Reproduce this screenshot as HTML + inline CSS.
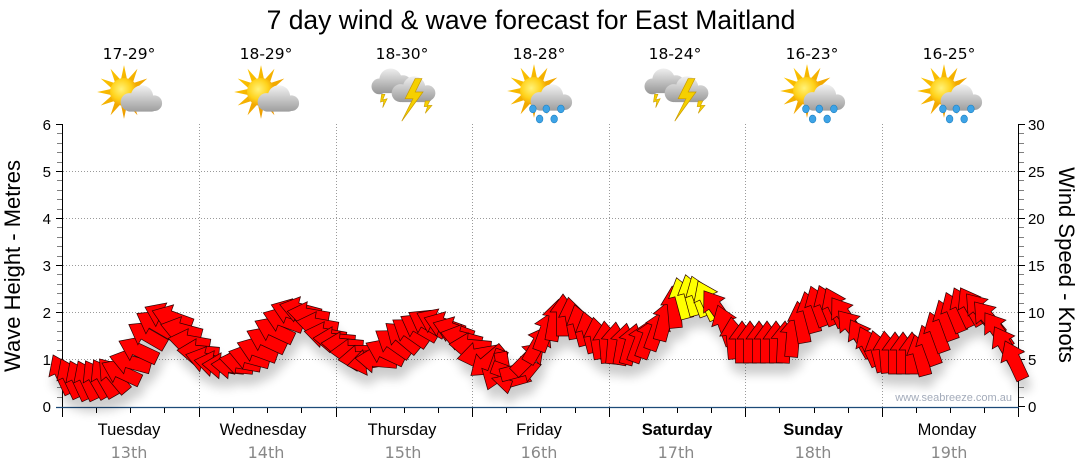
<!DOCTYPE html>
<html><head><meta charset="utf-8"><style>
html,body{margin:0;padding:0;background:#fff;}
svg{display:block;}
</style></head><body>
<svg width="1080" height="475" viewBox="0 0 1080 475" xmlns="http://www.w3.org/2000/svg" xmlns:xlink="http://www.w3.org/1999/xlink">
<defs>
<path id="ar" d="M0,-21 L13,-3 L6.5,-3 L6.5,21 L-6.5,21 L-6.5,-3 L-13,-3 Z"/>
<filter id="sh" x="-5%" y="-30%" width="110%" height="180%">
<feGaussianBlur in="SourceAlpha" stdDeviation="5"/>
<feOffset dx="3" dy="11"/>
<feComponentTransfer><feFuncA type="linear" slope="0.2"/></feComponentTransfer>
<feMerge><feMergeNode/><feMergeNode in="SourceGraphic"/></feMerge>
</filter>
<radialGradient id="sunG" cx="0.4" cy="0.4" r="0.6">
<stop offset="0" stop-color="#fff27a"/><stop offset="0.6" stop-color="#ffd21a"/><stop offset="1" stop-color="#f0a000"/>
</radialGradient>
<linearGradient id="rayG" gradientUnits="userSpaceOnUse" x1="-24" y1="-24" x2="24" y2="24">
<stop offset="0" stop-color="#ffd000"/><stop offset="1" stop-color="#e88a00"/>
</linearGradient>
<linearGradient id="cg" gradientUnits="userSpaceOnUse" x1="0" y1="-7" x2="0" y2="18">
<stop offset="0" stop-color="#f6f6f6"/><stop offset="1" stop-color="#9c9c9c"/>
</linearGradient>
<linearGradient id="tg1" gradientUnits="userSpaceOnUse" x1="0" y1="-22" x2="0" y2="2">
<stop offset="0" stop-color="#f2f2f2"/><stop offset="1" stop-color="#959595"/>
</linearGradient>
<linearGradient id="tg2" gradientUnits="userSpaceOnUse" x1="0" y1="-15" x2="0" y2="9">
<stop offset="0" stop-color="#f4f4f4"/><stop offset="1" stop-color="#9a9a9a"/>
</linearGradient>
<g id="sun">
<polygon fill="url(#rayG)" points="0,-24 2.85,-10.6 12,-20.8 7.8,-7.8 20.8,-12 10.6,-2.85 24,0 10.6,2.85 20.8,12 7.8,7.8 12,20.8 2.85,10.6 0,24 -2.85,10.6 -12,20.8 -7.8,7.8 -20.8,12 -10.6,2.85 -24,0 -10.6,-2.85 -20.8,-12 -7.8,-7.8 -12,-20.8 -2.85,-10.6"/>
<circle r="12.5" fill="url(#sunG)"/>
</g>
<g id="cloud" fill="url(#cg)">
<circle cx="16" cy="4" r="10"/><circle cx="5" cy="9" r="8"/><circle cx="27" cy="10" r="7"/><rect x="1" y="8" width="28" height="9.5" rx="4"/>
</g>
<g id="sunCloud"><use xlink:href="#sun"/><use xlink:href="#cloud"/></g>
<g id="sunRain"><use xlink:href="#sun"/><use xlink:href="#cloud"/>
<g fill="#3da3e6" stroke="#1d7fc0" stroke-width="0.5">
<ellipse cx="-1" cy="16" rx="3" ry="3.5"/><ellipse cx="11" cy="16" rx="3" ry="3.5"/><ellipse cx="24" cy="16" rx="3" ry="3.5"/>
<ellipse cx="5" cy="25" rx="3" ry="3.5"/><ellipse cx="18" cy="25" rx="3" ry="3.5"/>
</g>
</g>
<g id="thunder">
<g fill="url(#tg1)"><circle cx="-12" cy="-11" r="10"/><circle cx="-22" cy="-5" r="7"/><circle cx="-1" cy="-7" r="8"/><rect x="-26" y="-8" width="32" height="9" rx="4"/></g>
<polygon fill="#f5d000" stroke="#c99a00" stroke-width="0.5" points="-20,2 -17,2 -19,7 -15,6 -19,14 -18,8 -21,9"/>
<g fill="url(#tg2)"><circle cx="9" cy="-4" r="10"/><circle cx="-3" cy="1" r="8"/><circle cx="21" cy="1" r="7"/><rect x="-6" y="-1" width="31" height="10" rx="4"/></g>
<polygon fill="#f5d000" stroke="#c99a00" stroke-width="0.6" points="10,-12 1,6 8,6 -2,26 17,0 10,0 16,-12"/>
<polygon fill="#f5d000" stroke="#c99a00" stroke-width="0.5" points="19,8 23,8 21,12 25,12 19,19 21,13 18,13"/>
</g>
</defs>

<rect width="1080" height="475" fill="#fff"/>

<text x="531" y="29" font-family="Liberation Sans, sans-serif" font-size="26.5" text-anchor="middle" fill="#000">7 day wind &amp; wave forecast for East Maitland</text>

<g font-family="DejaVu Sans, Liberation Sans, sans-serif" font-size="15.5" text-anchor="middle" fill="#000">
<text x="129" y="59">17-29°</text>
<text x="266" y="59">18-29°</text>
<text x="402" y="59">18-30°</text>
<text x="539" y="59">18-28°</text>
<text x="675" y="59">18-24°</text>
<text x="812" y="59">16-23°</text>
<text x="949" y="59">16-25°</text>
</g>

<use xlink:href="#sunCloud" transform="translate(124,92) scale(1.12)"/>
<use xlink:href="#sunCloud" transform="translate(261,92) scale(1.12)"/>
<use xlink:href="#thunder" transform="translate(404,92) scale(1.12)"/>
<use xlink:href="#sunRain" transform="translate(534,91) scale(1.12)"/>
<use xlink:href="#thunder" transform="translate(677,92) scale(1.12)"/>
<use xlink:href="#sunRain" transform="translate(807,91) scale(1.12)"/>
<use xlink:href="#sunRain" transform="translate(944,91) scale(1.12)"/>

<path stroke="#9a9a9a" stroke-width="1" stroke-dasharray="1 2" fill="none" d="M63,359.5H1018M63,312.5H1018M63,265.5H1018M63,218.5H1018M63,171.5H1018M199.5,124V407M336.5,124V407M472.5,124V407M609.5,124V407M745.5,124V407M882.5,124V407"/>

<path stroke="#000" stroke-width="1" fill="none" d="M62.5,124V408M1018.5,124V408M56,124.5H62M56,171.5H62M56,218.5H62M56,265.5H62M56,312.5H62M56,359.5H62M1019,124.5H1025M1019,171.5H1025M1019,218.5H1025M1019,265.5H1025M1019,312.5H1025M1019,359.5H1025M1019,406.5H1025"/>

<path stroke="#808080" stroke-width="1" fill="none" d="M57,133.5h5M57,143.5h5M57,152.5h5M57,162.5h5M57,180.5h5M57,190.5h5M57,199.5h5M57,209.5h5M57,227.5h5M57,237.5h5M57,246.5h5M57,256.5h5M57,274.5h5M57,284.5h5M57,293.5h5M57,303.5h5M57,321.5h5M57,331.5h5M57,340.5h5M57,350.5h5M57,368.5h5M57,378.5h5M57,387.5h5M57,397.5h5M1019,133.5h5M1019,143.5h5M1019,152.5h5M1019,162.5h5M1019,180.5h5M1019,190.5h5M1019,199.5h5M1019,209.5h5M1019,227.5h5M1019,237.5h5M1019,246.5h5M1019,256.5h5M1019,274.5h5M1019,284.5h5M1019,293.5h5M1019,303.5h5M1019,321.5h5M1019,331.5h5M1019,340.5h5M1019,350.5h5M1019,368.5h5M1019,378.5h5M1019,387.5h5M1019,397.5h5"/>

<line x1="56" y1="407.5" x2="1019" y2="407.5" stroke="#1c4a78" stroke-width="1.2"/>
<path stroke="#000" stroke-width="1" fill="none" d="M62.5,408v9M199.5,408v9M336.5,408v9M472.5,408v9M609.5,408v9M745.5,408v9M882.5,408v9M1018.5,408v9M96.5,408v5M130.5,408v5M164.5,408v5M233.5,408v5M267.5,408v5M301.5,408v5M370.5,408v5M404.5,408v5M438.5,408v5M506.5,408v5M540.5,408v5M575.5,408v5M643.5,408v5M677.5,408v5M711.5,408v5M779.5,408v5M814.5,408v5M848.5,408v5M916.5,408v5M950.5,408v5M984.5,408v5"/>

<g font-family="Liberation Sans, sans-serif" font-size="15" fill="#000">
<g text-anchor="end">
<text x="51" y="130">6</text><text x="51" y="177">5</text><text x="51" y="224">4</text><text x="51" y="271">3</text>
<text x="51" y="318">2</text><text x="51" y="365">1</text><text x="51" y="412">0</text>
</g>
<text x="1028" y="130">30</text><text x="1028" y="177">25</text><text x="1028" y="224">20</text><text x="1028" y="271">15</text>
<text x="1028" y="318">10</text><text x="1028" y="365">5</text><text x="1028" y="412">0</text>
</g>
<text transform="translate(20,266) rotate(-90)" text-anchor="middle" font-family="Liberation Sans, sans-serif" font-size="22" fill="#000">Wave Height - Metres</text>
<text transform="translate(1059,265) rotate(90)" text-anchor="middle" font-family="Liberation Sans, sans-serif" font-size="22" fill="#000">Wind Speed - Knots</text>

<g font-family="Liberation Sans, sans-serif" font-size="16.5" text-anchor="middle" fill="#000">
<text x="129" y="435">Tuesday</text>
<text x="263" y="435">Wednesday</text>
<text x="402" y="435">Thursday</text>
<text x="539" y="435">Friday</text>
<text x="677" y="435" font-weight="bold">Saturday</text>
<text x="813" y="435" font-weight="bold">Sunday</text>
<text x="947" y="435">Monday</text>
</g>
<g font-family="DejaVu Sans, Liberation Sans, sans-serif" font-size="16" text-anchor="middle" fill="#888">
<text x="129" y="458">13th</text>
<text x="266" y="458">14th</text>
<text x="403" y="458">15th</text>
<text x="539" y="458">16th</text>
<text x="676" y="458">17th</text>
<text x="813" y="458">18th</text>
<text x="949" y="458">19th</text>
</g>

<text x="1012" y="401" text-anchor="end" font-family="Liberation Sans, sans-serif" font-size="11" fill="#a3abba">www.seabreeze.com.au</text>

<g filter="url(#sh)" fill="#ff0000" stroke="#2a0000" stroke-width="0.7">
<use xlink:href="#ar" transform="translate(62,374) rotate(335)"/>
<use xlink:href="#ar" transform="translate(70,378) rotate(335)"/>
<use xlink:href="#ar" transform="translate(79,380) rotate(335)"/>
<use xlink:href="#ar" transform="translate(87,380) rotate(335)"/>
<use xlink:href="#ar" transform="translate(96,379) rotate(330)"/>
<use xlink:href="#ar" transform="translate(104,378) rotate(330)"/>
<use xlink:href="#ar" transform="translate(113,375) rotate(320)"/>
<use xlink:href="#ar" transform="translate(121,372) rotate(295)"/>
<use xlink:href="#ar" transform="translate(130,362) rotate(285)"/>
<use xlink:href="#ar" transform="translate(138,350) rotate(295)"/>
<use xlink:href="#ar" transform="translate(147,335) rotate(300)"/>
<use xlink:href="#ar" transform="translate(155,324) rotate(300)"/>
<use xlink:href="#ar" transform="translate(164,316) rotate(295)"/>
<use xlink:href="#ar" transform="translate(172,318) rotate(290)"/>
<use xlink:href="#ar" transform="translate(181,330) rotate(285)"/>
<use xlink:href="#ar" transform="translate(189,342) rotate(280)"/>
<use xlink:href="#ar" transform="translate(198,352) rotate(275)"/>
<use xlink:href="#ar" transform="translate(206,360) rotate(285)"/>
<use xlink:href="#ar" transform="translate(215,364) rotate(280)"/>
<use xlink:href="#ar" transform="translate(223,366) rotate(275)"/>
<use xlink:href="#ar" transform="translate(232,366) rotate(275)"/>
<use xlink:href="#ar" transform="translate(240,362) rotate(280)"/>
<use xlink:href="#ar" transform="translate(249,357) rotate(285)"/>
<use xlink:href="#ar" transform="translate(257,350) rotate(290)"/>
<use xlink:href="#ar" transform="translate(266,340) rotate(295)"/>
<use xlink:href="#ar" transform="translate(274,330) rotate(295)"/>
<use xlink:href="#ar" transform="translate(283,320) rotate(290)"/>
<use xlink:href="#ar" transform="translate(291,312) rotate(290)"/>
<use xlink:href="#ar" transform="translate(300,310) rotate(285)"/>
<use xlink:href="#ar" transform="translate(308,315) rotate(280)"/>
<use xlink:href="#ar" transform="translate(317,325) rotate(280)"/>
<use xlink:href="#ar" transform="translate(325,335) rotate(280)"/>
<use xlink:href="#ar" transform="translate(334,340) rotate(275)"/>
<use xlink:href="#ar" transform="translate(342,345) rotate(275)"/>
<use xlink:href="#ar" transform="translate(351,352) rotate(270)"/>
<use xlink:href="#ar" transform="translate(359,358) rotate(265)"/>
<use xlink:href="#ar" transform="translate(368,362) rotate(260)"/>
<use xlink:href="#ar" transform="translate(376,360) rotate(275)"/>
<use xlink:href="#ar" transform="translate(385,352) rotate(295)"/>
<use xlink:href="#ar" transform="translate(393,343) rotate(305)"/>
<use xlink:href="#ar" transform="translate(402,337) rotate(310)"/>
<use xlink:href="#ar" transform="translate(410,332) rotate(305)"/>
<use xlink:href="#ar" transform="translate(419,327) rotate(300)"/>
<use xlink:href="#ar" transform="translate(427,323) rotate(300)"/>
<use xlink:href="#ar" transform="translate(436,322) rotate(295)"/>
<use xlink:href="#ar" transform="translate(444,325) rotate(290)"/>
<use xlink:href="#ar" transform="translate(453,330) rotate(290)"/>
<use xlink:href="#ar" transform="translate(461,338) rotate(285)"/>
<use xlink:href="#ar" transform="translate(470,346) rotate(275)"/>
<use xlink:href="#ar" transform="translate(478,355) rotate(260)"/>
<use xlink:href="#ar" transform="translate(487,362) rotate(230)"/>
<use xlink:href="#ar" transform="translate(495,370) rotate(200)"/>
<use xlink:href="#ar" transform="translate(504,373) rotate(170)"/>
<use xlink:href="#ar" transform="translate(512,374) rotate(110)"/>
<use xlink:href="#ar" transform="translate(521,370) rotate(75)"/>
<use xlink:href="#ar" transform="translate(529,358) rotate(45)"/>
<use xlink:href="#ar" transform="translate(538,344) rotate(30)"/>
<use xlink:href="#ar" transform="translate(546,331) rotate(20)"/>
<use xlink:href="#ar" transform="translate(555,320) rotate(10)"/>
<use xlink:href="#ar" transform="translate(563,315) rotate(0)"/>
<use xlink:href="#ar" transform="translate(572,318) rotate(350)"/>
<use xlink:href="#ar" transform="translate(580,325) rotate(345)"/>
<use xlink:href="#ar" transform="translate(589,332) rotate(345)"/>
<use xlink:href="#ar" transform="translate(597,338) rotate(350)"/>
<use xlink:href="#ar" transform="translate(606,342) rotate(355)"/>
<use xlink:href="#ar" transform="translate(614,343) rotate(5)"/>
<use xlink:href="#ar" transform="translate(623,344) rotate(10)"/>
<use xlink:href="#ar" transform="translate(631,344) rotate(15)"/>
<use xlink:href="#ar" transform="translate(640,342) rotate(20)"/>
<use xlink:href="#ar" transform="translate(648,338) rotate(20)"/>
<use xlink:href="#ar" transform="translate(657,330) rotate(20)"/>
<use xlink:href="#ar" transform="translate(665,320) rotate(15)"/>
<use xlink:href="#ar" transform="translate(674,307) rotate(355)"/>
<use xlink:href="#ar" transform="translate(682,298) rotate(345)" fill="#ffff00"/>
<use xlink:href="#ar" transform="translate(691,295) rotate(345)" fill="#ffff00"/>
<use xlink:href="#ar" transform="translate(699,296) rotate(340)" fill="#ffff00"/>
<use xlink:href="#ar" transform="translate(707,300) rotate(335)" fill="#ffff00"/>
<use xlink:href="#ar" transform="translate(716,308) rotate(325)"/>
<use xlink:href="#ar" transform="translate(725,325) rotate(340)"/>
<use xlink:href="#ar" transform="translate(733,338) rotate(355)"/>
<use xlink:href="#ar" transform="translate(742,342) rotate(0)"/>
<use xlink:href="#ar" transform="translate(750,342) rotate(0)"/>
<use xlink:href="#ar" transform="translate(759,342) rotate(0)"/>
<use xlink:href="#ar" transform="translate(767,342) rotate(0)"/>
<use xlink:href="#ar" transform="translate(776,342) rotate(0)"/>
<use xlink:href="#ar" transform="translate(784,342) rotate(3)"/>
<use xlink:href="#ar" transform="translate(793,336) rotate(5)"/>
<use xlink:href="#ar" transform="translate(801,322) rotate(350)"/>
<use xlink:href="#ar" transform="translate(810,312) rotate(345)"/>
<use xlink:href="#ar" transform="translate(818,306) rotate(340)"/>
<use xlink:href="#ar" transform="translate(827,305) rotate(338)"/>
<use xlink:href="#ar" transform="translate(835,307) rotate(335)"/>
<use xlink:href="#ar" transform="translate(844,315) rotate(325)"/>
<use xlink:href="#ar" transform="translate(852,327) rotate(320)"/>
<use xlink:href="#ar" transform="translate(861,338) rotate(330)"/>
<use xlink:href="#ar" transform="translate(869,346) rotate(335)"/>
<use xlink:href="#ar" transform="translate(878,351) rotate(345)"/>
<use xlink:href="#ar" transform="translate(886,352) rotate(355)"/>
<use xlink:href="#ar" transform="translate(895,353) rotate(0)"/>
<use xlink:href="#ar" transform="translate(903,353) rotate(0)"/>
<use xlink:href="#ar" transform="translate(912,353) rotate(0)"/>
<use xlink:href="#ar" transform="translate(920,355) rotate(345)"/>
<use xlink:href="#ar" transform="translate(929,345) rotate(340)"/>
<use xlink:href="#ar" transform="translate(937,332) rotate(340)"/>
<use xlink:href="#ar" transform="translate(946,320) rotate(340)"/>
<use xlink:href="#ar" transform="translate(954,312) rotate(338)"/>
<use xlink:href="#ar" transform="translate(963,307) rotate(335)"/>
<use xlink:href="#ar" transform="translate(971,306) rotate(330)"/>
<use xlink:href="#ar" transform="translate(980,310) rotate(320)"/>
<use xlink:href="#ar" transform="translate(988,318) rotate(320)"/>
<use xlink:href="#ar" transform="translate(997,330) rotate(325)"/>
<use xlink:href="#ar" transform="translate(1005,345) rotate(330)"/>
<use xlink:href="#ar" transform="translate(1014,360) rotate(335)"/>
</g>
</svg>
</body></html>
